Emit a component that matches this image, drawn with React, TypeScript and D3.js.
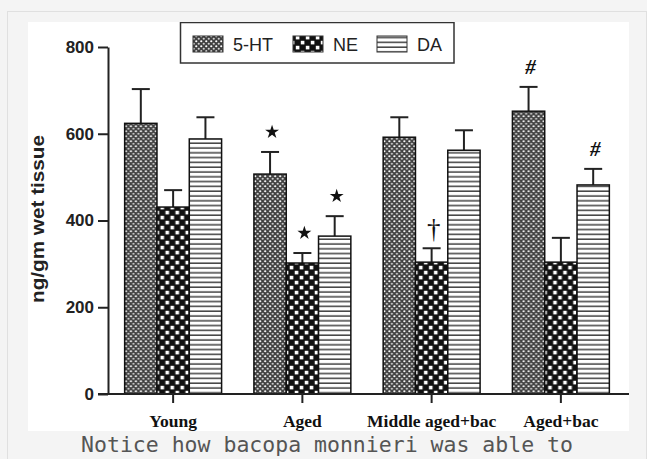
import * as d3 from "d3";
import { useEffect, useRef } from "react";

const categories = ["Young", "Aged", "Middle aged+bac", "Aged+bac"];
const seriesNames = ["5-HT", "NE", "DA"];
const ht5Values = [624, 507, 592, 652];
const ht5Errors = [79, 51, 46, 56];
const neValues = [431, 302, 304, 304];
const neErrors = [39, 23, 32, 56];
const daValues = [588, 364, 562, 482];
const daErrors = [50, 46, 46, 37];
const yTicks = [0, 200, 400, 600, 800];
// significance marks: [category, series, mark]
const marks: [string, string, string][] = [
  ["Aged", "5-HT", "star"],
  ["Aged", "NE", "star"],
  ["Aged", "DA", "star"],
  ["Middle aged+bac", "NE", "†"],
  ["Aged+bac", "5-HT", "#"],
  ["Aged+bac", "DA", "#"],
];
const caption = "Notice how bacopa monnieri was able to";

const W = 647;
const H = 459;
const img = { x: 28, y: 22, w: 601, h: 409 };
const SANS = "'Liberation Sans', Arial, sans-serif";
const SERIF = "'Liberation Serif', 'Times New Roman', serif";

const patternId: Record<string, string> = { "5-HT": "p-ht", NE: "p-ne", DA: "p-da" };

export default function App() {
  const yAxisRef = useRef<SVGGElement>(null);
  const xAxisRef = useRef<SVGGElement>(null);

  const rows = categories.map((c, i) => ({
    cat: c,
    vals: [
      { s: "5-HT", v: ht5Values[i], e: ht5Errors[i] },
      { s: "NE", v: neValues[i], e: neErrors[i] },
      { s: "DA", v: daValues[i], e: daErrors[i] },
    ],
  }));

  const x0 = d3
    .scaleBand<string>()
    .domain(categories)
    .range([108.5, 625.5])
    .paddingInner(0.25)
    .paddingOuter(0.125);
  const x1 = d3.scaleBand<string>().domain(seriesNames).range([0, x0.bandwidth()]);
  const y = d3.scaleLinear().domain([0, 800]).range([394, 47]);

  useEffect(() => {
    const ya = d3.select(yAxisRef.current!);
    ya.selectAll("*").remove();
    ya.call(d3.axisLeft(y).tickValues(yTicks).tickSize(10).tickSizeOuter(0).tickPadding(4));
    ya.selectAll("path,line").attr("stroke", "#222").attr("stroke-width", 2);
    ya.selectAll("text")
      .attr("fill", "#222")
      .style("font-family", SANS)
      .style("font-size", "17px")
      .style("font-weight", "bold");

    const xa = d3.select(xAxisRef.current!);
    xa.selectAll("*").remove();
    xa.call(d3.axisBottom(x0).tickSize(9).tickSizeOuter(0).tickPadding(12));
    xa.select(".domain").remove();
    xa.selectAll("line").attr("stroke", "#222").attr("stroke-width", 2);
    xa.selectAll("text")
      .attr("fill", "#111")
      .style("font-family", SERIF)
      .style("font-size", "17.5px")
      .style("font-weight", "bold");
  }, []);

  const legendX = [193, 293, 377];

  return (
    <svg
      width={W}
      height={H}
      style={{ position: "absolute", left: 0, top: 0, display: "block" }}
    >
      <defs>
        <pattern id="p-ht" width={5} height={5} patternUnits="userSpaceOnUse">
          <rect width={5} height={5} fill="#404040" />
          <circle cx={1.25} cy={1.25} r={1.1} fill="#fff" />
          <circle cx={3.75} cy={3.75} r={1.1} fill="#d0d0d0" />
        </pattern>
        <pattern id="p-ne" width={10} height={10} patternUnits="userSpaceOnUse">
          <rect width={10} height={10} fill="#111" />
          <rect x={0.8} y={0.8} width={3.6} height={3.6} fill="#fff" />
          <rect x={5.8} y={5.8} width={3.6} height={3.6} fill="#fff" />
        </pattern>
        <pattern id="p-da" width={6} height={4.8} patternUnits="userSpaceOnUse">
          <rect width={6} height={4.8} fill="#fff" />
          <rect y={3.3} width={6} height={1.4} fill="#333" />
        </pattern>
        <clipPath id="img-clip">
          <rect x={img.x} y={img.y} width={img.w} height={img.h} />
        </clipPath>
      </defs>

      <rect width={W} height={H} fill="#f4f4f4" />
      <rect x={7.5} y={11.5} width={639} height={470} fill="#f4f4f4" stroke="#e0e0e0" />
      <rect x={img.x} y={img.y} width={img.w} height={img.h} fill="#fff" />

      <g clipPath="url(#img-clip)">
        {rows.map((r) => (
          <g key={r.cat} transform={`translate(${x0(r.cat)},0)`}>
            {r.vals.map((d) => {
              const bx = x1(d.s)!;
              const cx = bx + x1.bandwidth() / 2;
              return (
                <g key={d.s}>
                  <line x1={cx} x2={cx} y1={y(d.v)} y2={y(d.v + d.e)} stroke="#222" strokeWidth={2} />
                  <line x1={cx - 9} x2={cx + 9} y1={y(d.v + d.e)} y2={y(d.v + d.e)} stroke="#222" strokeWidth={2} />
                  <rect
                    x={bx}
                    y={y(d.v)}
                    width={x1.bandwidth()}
                    height={y(0) - y(d.v)}
                    fill={`url(#${patternId[d.s]})`}
                    stroke="#111"
                    strokeWidth={1.5}
                  />
                </g>
              );
            })}
          </g>
        ))}

        {marks.map(([c, s, m]) => {
          const i = categories.indexOf(c);
          const d = rows[i].vals.find((v) => v.s === s)!;
          const cx = x0(c)! + x1(s)! + x1.bandwidth() / 2 + 2;
          const cy = y(d.v + d.e) - 20;
          if (m === "star") {
            return (
              <path
                key={c + s}
                transform={`translate(${cx},${cy})`}
                d={d3.symbol(d3.symbolStar, 60)()!}
                fill="#111"
              />
            );
          }
          return (
            <text
              key={c + s}
              x={cx}
              y={cy}
              dy="0.35em"
              textAnchor="middle"
              fontFamily={SERIF}
              fontStyle={m === "#" ? "italic" : "normal"}
              fontWeight={m === "#" ? "bold" : "normal"}
              fontSize={m === "#" ? 21 : 27}
              fill="#111"
            >
              {m}
            </text>
          );
        })}

        <g ref={yAxisRef} transform="translate(108,0)" />
        <line x1={98} x2={img.x + img.w} y1={y(0)} y2={y(0)} stroke="#222" strokeWidth={2} />
        <g ref={xAxisRef} transform={`translate(0,${y(0)})`} />

        <text
          transform="translate(44,219) rotate(-90)"
          textAnchor="middle"
          fontFamily={SANS}
          fontWeight="bold"
          fontSize={18.5}
          fill="#222"
          textLength={168}
          lengthAdjust="spacingAndGlyphs"
        >
          ng/gm wet tissue
        </text>

        <g>
          <rect x={180.5} y={22.5} width={273.5} height={40.5} fill="#fff" stroke="#333" strokeWidth={1.5} />
          {seriesNames.map((s, i) => (
            <g key={s}>
              <rect
                x={legendX[i]}
                y={36}
                width={30}
                height={16}
                fill={`url(#${patternId[s]})`}
                stroke="#333"
                strokeWidth={1}
              />
              <text
                x={legendX[i] + 40}
                y={51}
                fontFamily={SANS}
                fontSize={18}
                fill="#222"
              >
                {s}
              </text>
            </g>
          ))}
        </g>
      </g>

      <text
        x={327}
        y={452}
        textAnchor="middle"
        fontFamily="'DejaVu Sans Mono', monospace"
        fontSize={21.5}
        fill="#555"
      >
        {caption}
      </text>
    </svg>
  );
}
